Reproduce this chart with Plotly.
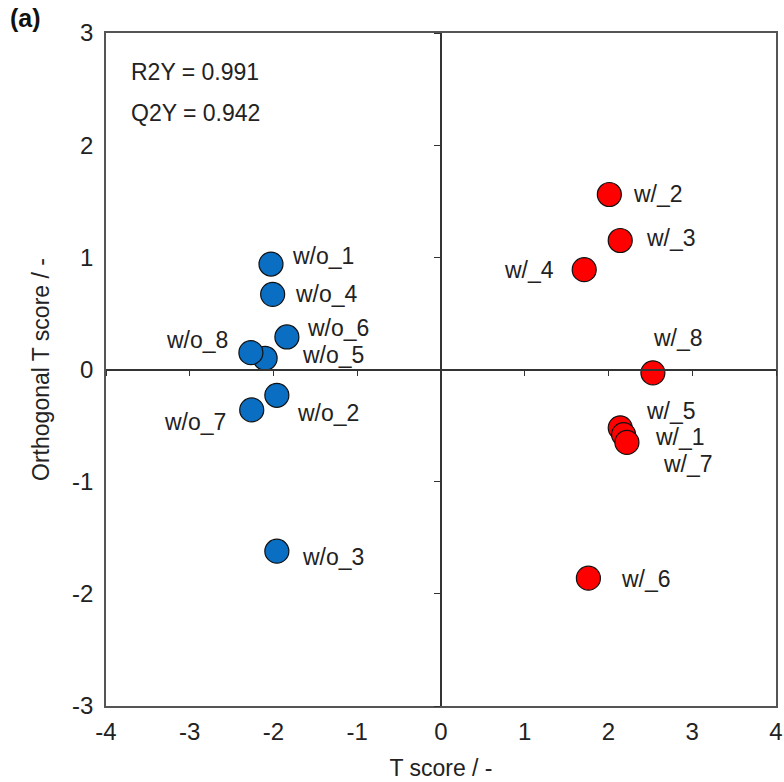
import plotly.graph_objects as go

# ---- data ----
wo_labels = ["w/o_1", "w/o_4", "w/o_6", "w/o_5", "w/o_8", "w/o_2", "w/o_7", "w/o_3"]
wo_t = [-2.03, -2.01, -1.84, -2.10, -2.27, -1.96, -2.26, -1.96]
wo_ot = [0.94, 0.67, 0.29, 0.10, 0.15, -0.23, -0.36, -1.62]

w_labels = ["w/_2", "w/_3", "w/_4", "w/_8", "w/_5", "w/_1", "w/_7", "w/_6"]
w_t = [2.01, 2.14, 1.71, 2.53, 2.14, 2.18, 2.22, 1.76]
w_ot = [1.56, 1.15, 0.89, -0.03, -0.52, -0.58, -0.65, -1.86]

stats_text = ["R2Y = 0.991", "Q2Y = 0.942"]
x_ticks = [-4, -3, -2, -1, 0, 1, 2, 3, 4]
y_ticks = [-3, -2, -1, 0, 1, 2, 3]

# ---- label placement (pixel offsets from each point) ----
wo_offsets = [(19, 8, "left"), (20, 0, "left"), (18, 9, "left"), (35, 3, "left"),
              (-21, 13, "right"), (18, -18, "left"), (-24, -12, "right"), (23, -6, "left")]
w_offsets = [(22, 1, "left"), (24, 3, "left"), (-28, 0, "right"), (-2, 35, "left"),
             (24, 17, "left"), (29, -2, "left"), (34, -22, "left"), (31, -1, "left")]

FONT = "Arial, Liberation Sans, sans-serif"
FS = 23
AX = "#555555"

fig = go.Figure()
fig.add_trace(go.Scatter(x=wo_t, y=wo_ot, mode="markers",
                         marker=dict(size=24, color="#0A6EC2", line=dict(color="#111111", width=1.2)),
                         showlegend=False, hoverinfo="skip"))
fig.add_trace(go.Scatter(x=w_t, y=w_ot, mode="markers",
                         marker=dict(size=24, color="#FF0000", line=dict(color="#111111", width=1.2)),
                         showlegend=False, hoverinfo="skip"))
# invisible trace to draw the crossing zero axes
fig.add_trace(go.Scatter(x=[0], y=[0], xaxis="x2", yaxis="y2", mode="markers",
                         marker=dict(size=1, color="rgba(0,0,0,0)"), showlegend=False, hoverinfo="skip"))

annotations = []
for lab, xv, yv, (dx, dy, anc) in zip(wo_labels + w_labels, wo_t + w_t, wo_ot + w_ot, wo_offsets + w_offsets):
    annotations.append(dict(x=xv, y=yv, xref="x", yref="y", text=lab, showarrow=False,
                            xanchor=anc, yanchor="middle", xshift=dx, yshift=dy,
                            font=dict(family=FONT, size=FS, color="#222222")))
annotations.append(dict(x=0.034, y=0.942, xref="paper", yref="paper", text=stats_text[0], showarrow=False,
                        xanchor="left", yanchor="middle", font=dict(family=FONT, size=FS, color="#222222")))
annotations.append(dict(x=0.034, y=0.881, xref="paper", yref="paper", text=stats_text[1], showarrow=False,
                        xanchor="left", yanchor="middle", font=dict(family=FONT, size=FS, color="#222222")))
annotations.append(dict(x=-0.146, y=1.023, xref="paper", yref="paper", text="<b>(a)</b>", showarrow=False,
                        xanchor="left", yanchor="middle", font=dict(family=FONT, size=25, color="#111111")))

axis_common = dict(showgrid=False, zeroline=False, showline=True, linecolor=AX, linewidth=1.5,
                   mirror=True, ticks="", ticklabeloverflow="allow", automargin=False,
                   tickfont=dict(family=FONT, size=24, color="#222222"))

fig.update_layout(
    width=784, height=782,
    margin=dict(l=106, r=8, t=33, b=76),
    paper_bgcolor="white", plot_bgcolor="white",
    xaxis=dict(range=[-4, 4], tickvals=x_ticks, ticktext=[str(v) for v in x_ticks],
               ticklabelstandoff=3,
               title=dict(text="T score / -", font=dict(family=FONT, size=FS, color="#222222"), standoff=16),
               **axis_common),
    yaxis=dict(range=[-3, 3], tickvals=y_ticks, ticktext=[str(v) for v in y_ticks],
               ticklabelstandoff=6,
               title=dict(text="Orthogonal T score / -", font=dict(family=FONT, size=FS, color="#222222"), standoff=16),
               **axis_common),
    xaxis2=dict(overlaying="x", matches="x", anchor="free", position=0.5, side="bottom",
                showgrid=False, zeroline=False, showline=True, linecolor="#333333", linewidth=1.5,
                ticks="outside", ticklen=6, tickcolor="#333333", tickvals=x_ticks, showticklabels=False),
    yaxis2=dict(overlaying="y", matches="y", anchor="free", position=0.5, side="left",
                showgrid=False, zeroline=False, showline=True, linecolor="#333333", linewidth=1.5,
                ticks="outside", ticklen=6, tickcolor="#333333", tickvals=y_ticks, showticklabels=False),
    annotations=annotations,
)

fig.write_html("out.html")
